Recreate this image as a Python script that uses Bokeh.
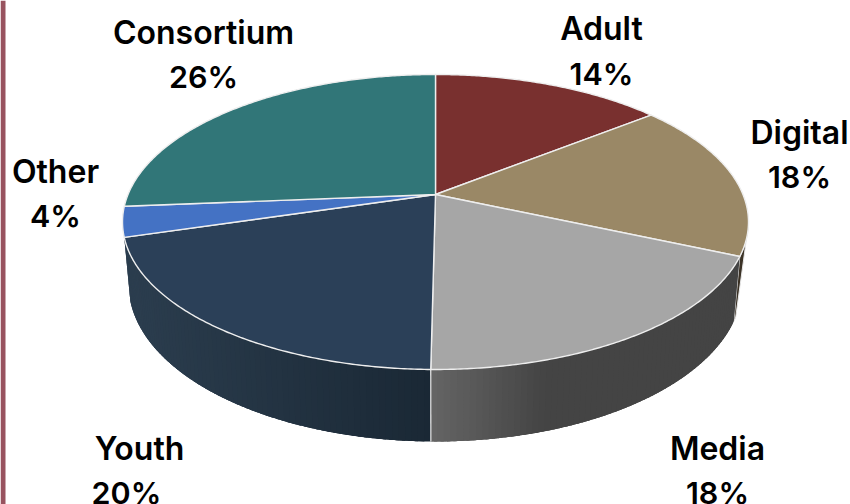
import math
from bokeh.plotting import figure
from bokeh.embed import file_html
from bokeh.resources import INLINE
from bokeh.core.properties import value

categories = ["Adult", "Digital", "Media", "Youth", "Other", "Consortium"]
percent_labels = ["14%", "18%", "18%", "20%", "4%", "26%"]
# slice shares estimated from the drawn boundaries
shares = [14.3, 17.3, 18.6, 20.2, 3.3, 26.3]
top_colors = ["#79302f", "#9a8866", "#a6a6a6", "#2b4058", "#4472c4", "#317678"]

# label anchors: (x of name, y of name, x of percent, y of percent)
label_pos = {
    "Adult": (601, 28, 601, 72.5),
    "Digital": (799, 132, 799, 176),
    "Media": (717, 447.5, 717, 491.5),
    "Youth": (139, 447.5, 126, 491.5),
    "Other": (55, 171, 55, 215),
    "Consortium": (203, 32, 203, 76),
}

W, H = 850, 504
CX, K = 435.0, 0.1864


def rim(deg, lower=False):
    t = math.radians(deg)
    u, v = math.sin(t), math.cos(t)
    w = 1 + K * v
    if lower:
        return CX + 301.5 * u / w, (254.8 - 104.0 * v) / w
    return CX + 307.5 * u / w, (194.0 - 106.2 * v) / w


def arc(a, b, lower=False, n=None):
    n = n or max(2, int(abs(b - a) * 2))
    return [rim(a + (b - a) * i / n, lower) for i in range(n + 1)]


def mix(c1, c2, f):
    f = max(0.0, min(1.0, f))
    a = [int(c1[i:i + 2], 16) for i in (1, 3, 5)]
    b = [int(c2[i:i + 2], 16) for i in (1, 3, 5)]
    return "#%02x%02x%02x" % tuple(round(x + (y - x) * f) for x, y in zip(a, b))


p = figure(width=W, height=H, x_range=(0, W), y_range=(H, 0), output_backend="svg",
           toolbar_location=None, min_border=0, outline_line_color=None,
           background_fill_color="white", border_fill_color="white")
p.axis.visible = False
p.grid.visible = False

# left page rule
p.quad(left=[0], right=[5], top=[0], bottom=[H], fill_color="#98535f", line_color=None)

edges = [0.0]
for v in shares:
    edges.append(edges[-1] + v * 3.6)
ang = dict(zip(categories, zip(edges[:-1], edges[1:])))


def wall(a, b, c1, c2, x1, x2):
    # strips overlap the next one so no seams show through
    n = int(round(b - a))
    for i in range(n):
        d = a + (b - a) * i / n
        e = a + (b - a) * (i + 1) / n
        e0 = min(b, e + 1.5)
        pts = arc(d, e0, n=3) + arc(e0, d, True, n=3)
        col = mix(c1, c2, (rim((d + e) / 2)[0] - x1) / (x2 - x1))
        p.patch([q[0] for q in pts], [q[1] for q in pts], fill_color=col, line_color=None)


# digital sliver
d_end = ang["Digital"][1]
sl = arc(d_end - 12, d_end) + arc(d_end, d_end - 1.5, True)
p.patch([q[0] for q in sl], [q[1] for q in sl], fill_color="#3b3226", line_color="#e8e8e8", line_width=1)

# front walls
wall(*ang["Media"], "#444444", "#656565", 545, 430)
wall(*ang["Youth"], "#1a2835", "#2b3d4e", 430, 130)

m_end = ang["Media"][1]
seam = [rim(m_end), rim(m_end, True)]
p.line([q[0] for q in seam], [q[1] for q in seam], line_color="#e6e6e6", line_width=1.2)

# top slices
for c, col in zip(categories, top_colors):
    a, b = ang[c]
    pts = [(CX, 194.0)] + arc(a, b)
    p.patch([q[0] for q in pts], [q[1] for q in pts], fill_color=col,
            line_color="#eeeeee", line_width=1.4, line_join="round")

for c, t in zip(categories, percent_labels):
    x1, y1, x2, y2 = label_pos[c]
    p.text([x1], [y1], text=[c], text_font=value("Inter SemiBold"),
           text_font_size="32px", text_color="#000000",
           text_align="center", text_baseline="middle")
    p.text([x2], [y2], text=[t], text_font=value("Inter SemiBold"),
           text_font_size="30.5px", text_color="#000000",
           text_align="center", text_baseline="middle")

open("out.html", "w").write(file_html(p, INLINE))
